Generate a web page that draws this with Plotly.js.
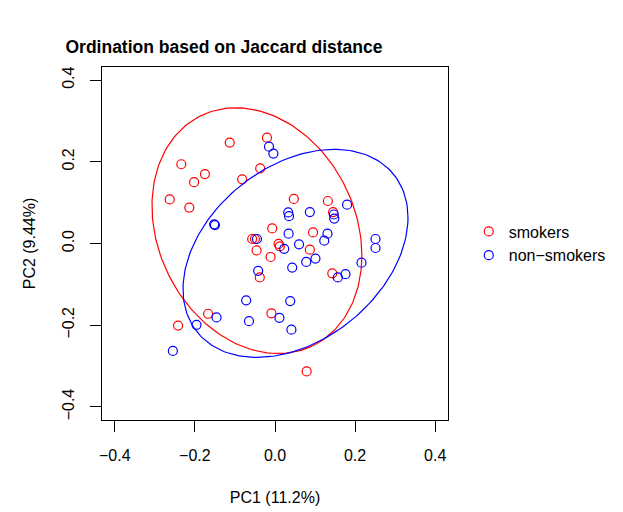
<!DOCTYPE html>
<html>
<head>
<meta charset="utf-8">
<script src="https://cdn.plot.ly/plotly-3.0.1.min.js"></script>
<style>html,body{margin:0;padding:0;background:#fff;}#chart{width:623px;height:512px;}</style>
</head>
<body>
<div id="chart"></div>
<script>
// ---- data ----
const groups = ["smokers", "non\u2212smokers"];
const smokersPC1 = [-0.020,-0.113,-0.234,-0.175,-0.202,-0.082,-0.037,-0.263,-0.214,0.047,0.132,-0.007,-0.057,-0.050,0.095,0.145,-0.046,0.009,0.012,-0.011,0.087,-0.038,0.143,-0.167,-0.009,-0.242,0.079];
const smokersPC2 = [0.259,0.247,0.194,0.170,0.150,0.157,0.184,0.108,0.088,0.109,0.104,0.037,0.011,0.011,0.027,0.077,-0.017,-0.001,-0.007,-0.033,-0.015,-0.083,-0.073,-0.172,-0.171,-0.201,-0.313];
const nonSmokersPC1 = [-0.015,-0.004,0.180,-0.152,-0.150,-0.045,0.147,0.148,0.033,0.035,0.087,0.034,0.023,0.060,0.131,0.123,0.078,0.101,0.043,-0.042,0.157,0.176,0.216,0.251,0.251,-0.072,0.038,-0.146,-0.065,0.011,0.041,-0.196,-0.255];
const nonSmokersPC2 = [0.237,0.220,0.095,0.047,0.045,0.011,0.071,0.061,0.076,0.067,0.077,0.024,-0.013,-0.002,0.024,0.007,-0.045,-0.037,-0.059,-0.067,-0.083,-0.075,-0.047,0.011,-0.011,-0.139,-0.141,-0.181,-0.190,-0.182,-0.211,-0.199,-0.263];
const tickVals = [-0.4,-0.2,0.0,0.2,0.4];
const tickText = ["\u22120.4","\u22120.2","0.0","0.2","0.4"];
const colors = ["#FF0000","#0000FF"];

// ---- group ellipses computed from the points ----
function ellipseFrom(mx,my,sxx,syy,sxy,r){
  const a=Math.sqrt(sxx), b=sxy/a, c=Math.sqrt(syy-b*b);
  const ex=[], ey=[];
  for(let k=0;k<=200;k++){
    const th=2*Math.PI*k/200, ct=Math.cos(th), st=Math.sin(th);
    ex.push(mx+r*a*ct); ey.push(my+r*(b*ct+c*st));
  }
  return {x:ex,y:ey};
}
// normal-theory data ellipse (90%)
function normEllipse(xs,ys){
  const n=xs.length, mx=xs.reduce((a,b)=>a+b,0)/n, my=ys.reduce((a,b)=>a+b,0)/n;
  let sxx=0,syy=0,sxy=0;
  for(let i=0;i<n;i++){const dx=xs[i]-mx,dy=ys[i]-my;sxx+=dx*dx;syy+=dy*dy;sxy+=dx*dy;}
  return ellipseFrom(mx,my,sxx/(n-1),syy/(n-1),sxy/(n-1),Math.sqrt(-2*Math.log(0.1)));
}
// robust (multivariate t, cov.trob-style) data ellipse (95%)
function trobEllipse(xs,ys){
  const n=xs.length, nu=5, p=2;
  let w=new Array(n).fill(1);
  let mx=xs.reduce((a,b)=>a+b,0)/n, my=ys.reduce((a,b)=>a+b,0)/n;
  for(let it=0;it<25;it++){
    const sw=w.reduce((a,b)=>a+b,0);
    let sxx=0,syy=0,sxy=0;
    for(let i=0;i<n;i++){const dx=xs[i]-mx,dy=ys[i]-my;sxx+=w[i]*dx*dx/sw;syy+=w[i]*dy*dy/sw;sxy+=w[i]*dx*dy/sw;}
    const det=sxx*syy-sxy*sxy, w0=w.slice();
    w=w.map((_,i)=>{const dx=xs[i]-mx,dy=ys[i]-my;const Q=(syy*dx*dx-2*sxy*dx*dy+sxx*dy*dy)/det;return (nu+p)/(nu+Q);});
    const s=w.reduce((a,b)=>a+b,0);
    mx=w.reduce((a,wi,i)=>a+wi*xs[i],0)/s; my=w.reduce((a,wi,i)=>a+wi*ys[i],0)/s;
    if(w.every((v,i)=>Math.abs(v-w0[i])<0.01)) break;
  }
  let sxx=0,syy=0,sxy=0;
  for(let i=0;i<n;i++){const dx=xs[i]-mx,dy=ys[i]-my;sxx+=w[i]*dx*dx/n;syy+=w[i]*dy*dy/n;sxy+=w[i]*dx*dy/n;}
  const d=n-1, q=(d/2)*(Math.pow(0.05,-2/d)-1);
  return ellipseFrom(mx,my,sxx,syy,sxy,Math.sqrt(2*q));
}

const font = "Liberation Sans, Arial, Helvetica, sans-serif";
const e1 = normEllipse(smokersPC1, smokersPC2);
const e2 = trobEllipse(nonSmokersPC1, nonSmokersPC2);

const traces = [
  {x:smokersPC1, y:smokersPC2, type:"scatter", mode:"markers", name:groups[0],
   marker:{symbol:"circle-open", size:9, color:colors[0], line:{width:1.2, color:colors[0]}}},
  {x:nonSmokersPC1, y:nonSmokersPC2, type:"scatter", mode:"markers", name:groups[1],
   marker:{symbol:"circle-open", size:9, color:colors[1], line:{width:1.2, color:colors[1]}}},
  {x:e1.x, y:e1.y, type:"scatter", mode:"lines", showlegend:false, hoverinfo:"skip",
   line:{color:colors[0], width:1.2}},
  {x:e2.x, y:e2.y, type:"scatter", mode:"lines", showlegend:false, hoverinfo:"skip",
   line:{color:colors[1], width:1.2}}
];

const axisCommon = {
  tickmode:"array", tickvals:tickVals, ticktext:tickText,
  showgrid:false, zeroline:false, showline:true, mirror:true,
  linecolor:"#000", linewidth:1, ticks:"outside", ticklen:11, tickwidth:1, tickcolor:"#000",
  tickfont:{family:font, size:16, color:"#000"}, automargin:false, ticklabelstandoff:10
};

const layout = {
  width:623, height:512,
  margin:{l:102, r:169, t:67, b:92},
  paper_bgcolor:"#fff", plot_bgcolor:"#fff",
  showlegend:true,
  title:{text:"<b>Ordination based on Jaccard distance</b>", x:224/623, xref:"container", xanchor:"center",
         y:1-47/512, yref:"container", yanchor:"middle", font:{family:font, size:17.5, color:"#000"}},
  xaxis:Object.assign({}, axisCommon, {range:[-0.432,0.432],
     title:{text:"PC1 (11.2%)", standoff:28, font:{family:font, size:16, color:"#000"}}}),
  yaxis:Object.assign({}, axisCommon, {range:[-0.432,0.432], tickangle:-90,
     title:{text:"PC2 (9.44%)", standoff:19, font:{family:font, size:16, color:"#000"}}}),
  legend:{x:1.06, xanchor:"left", y:0.5, yanchor:"middle", font:{family:font, size:16, color:"#000"},
          bgcolor:"rgba(0,0,0,0)", itemwidth:30, tracegroupgap:0}
};

Plotly.newPlot("chart", traces, layout, {displayModeBar:false, staticPlot:true});
</script>
</body>
</html>
